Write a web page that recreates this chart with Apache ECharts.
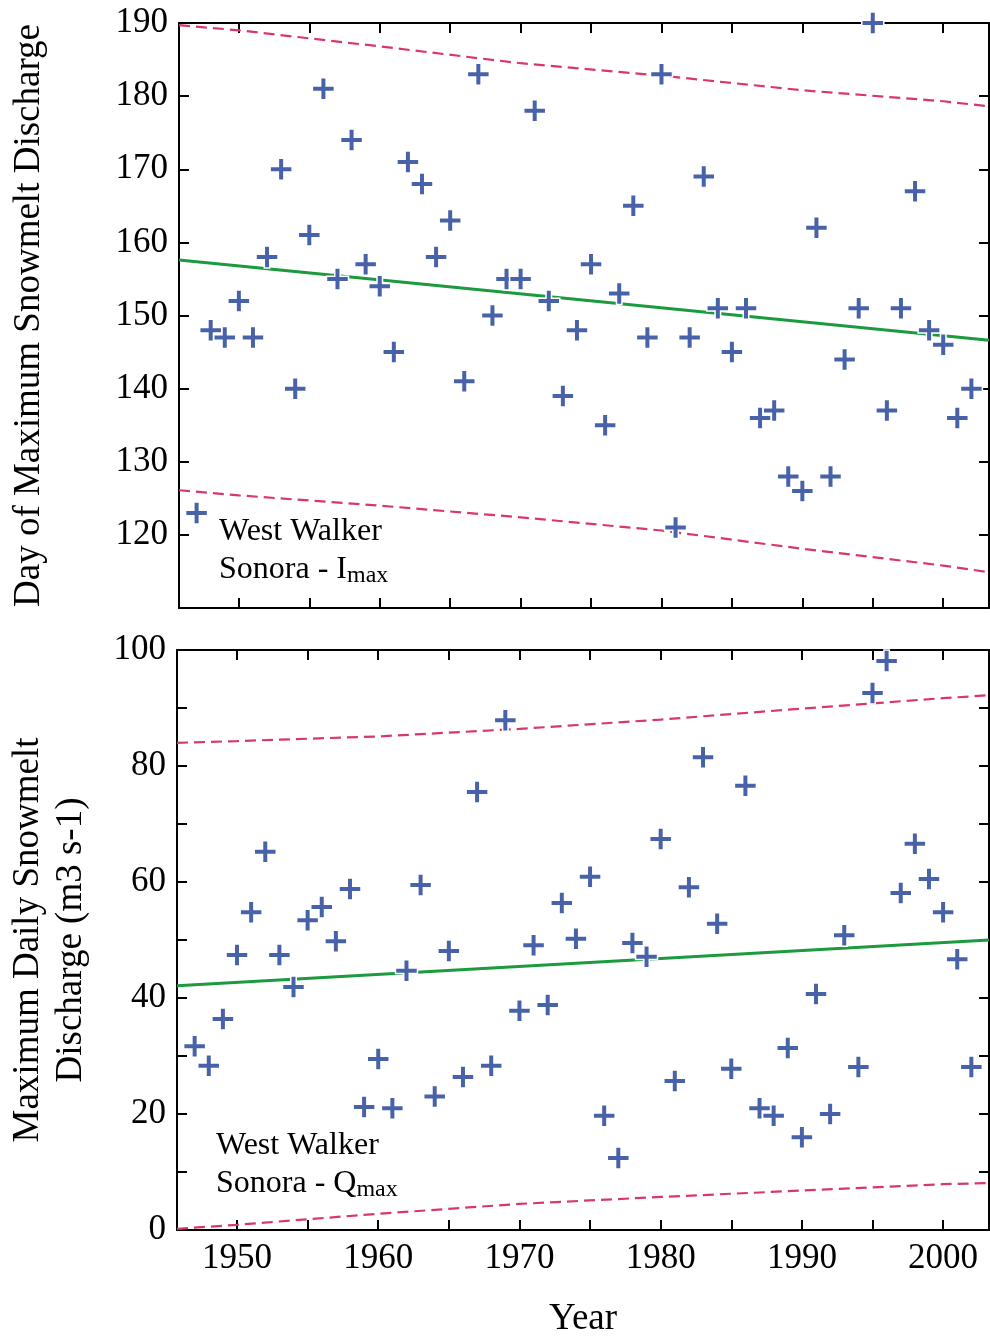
<!DOCTYPE html>
<html>
<head>
<meta charset="utf-8">
<title>West Walker - Sonora</title>
<script src="https://cdn.jsdelivr.net/npm/echarts@6/dist/echarts.min.js"></script>
<style>
  html, body { margin: 0; padding: 0; background: #fff; }
  #main { width: 990px; height: 1336px; }
</style>
</head>
<body>
<div id="main"></div>
<script>
    // 年份
    var years = [1947, 1948, 1949, 1950, 1951, 1952, 1953, 1954, 1955, 1956,
                 1957, 1958, 1959, 1960, 1961, 1962, 1963, 1964, 1965, 1966,
                 1967, 1968, 1969, 1970, 1971, 1972, 1973, 1974, 1975, 1976,
                 1977, 1978, 1979, 1980, 1981, 1982, 1983, 1984, 1985, 1986,
                 1987, 1988, 1989, 1990, 1991, 1992, 1993, 1994, 1995, 1996,
                 1997, 1998, 1999, 2000, 2001, 2002];
    // Imax : day of maximum snowmelt discharge
    var dayMax = [123, 148, 147, 152, 147, 158, 170, 140, 161, 181,
                  155, 174, 157, 154, 145, 171, 168, 158, 163, 141,
                  183, 150, 155, 155, 178, 152, 139, 148, 157, 135,
                  153, 165, 147, 183, 121, 147, 169, 151, 145, 151,
                  136, 137, 128, 126, 162, 128, 144, 151, 190, 137,
                  151, 167, 148, 146, 136, 140];
    // Qmax : maximum daily snowmelt discharge
    var qMax = [31.7, 28.3, 36.4, 47.4, 54.8, 65.2, 47.4, 41.9, 53.4, 55.7,
                49.8, 58.8, 21.2, 29.5, 21.0, 44.7, 59.5, 23.0, 48.1, 26.4,
                75.5, 28.3, 87.9, 37.8, 49.1, 38.8, 56.4, 50.2, 60.9, 19.7,
                12.4, 49.5, 47.1, 67.4, 25.7, 59.1, 81.5, 52.8, 27.8, 76.6,
                21.0, 19.7, 31.4, 16.0, 40.7, 20.0, 50.8, 28.1, 92.6, 98.1,
                58.1, 66.6, 60.5, 54.8, 46.7, 28.1];

    // 趋势线
    var fitYears = [1945.75, 2003.25];
    var dayFit = [157.6, 146.6];
    var qFit = [42.1, 50.0];

    // 置信带
    var bandYears = [1945.75, 1950, 1960, 1970, 1980, 1990, 2000, 2003.25];
    var dayUpper = [189.7, 189.0, 186.8, 184.5, 182.8, 180.8, 179.3, 178.6];
    var dayLower = [126.1, 125.4, 124.0, 122.4, 120.6, 118.1, 115.8, 114.9];
    var qUpper = [84.0, 84.3, 85.1, 86.4, 88.0, 89.9, 91.7, 92.2];
    var qLower = [0.2, 0.9, 2.8, 4.5, 5.7, 6.8, 7.9, 8.1];

    // 刻度
    var yearTicks = [1950, 1955, 1960, 1965, 1970, 1975, 1980, 1985, 1990, 1995, 2000];
    var yearLabels = [1950, 1960, 1970, 1980, 1990, 2000];
    var dayTicks = [120, 130, 140, 150, 160, 170, 180, 190];
    var qTicks = [0, 10, 20, 30, 40, 50, 60, 70, 80, 90, 100];
    var qLabels = [0, 20, 40, 60, 80, 100];

    var FONT = 'Liberation Serif';
    var BLUE = '#4862a9';
    var GREEN = '#1b9a3e';
    var RED = '#d9376b';
    var PLUS = 'path://M7.5,0H12.5V7.5H20V12.5H12.5V20H7.5V12.5H0V7.5H7.5Z';

    function pairs(xs, ys) {
        var out = [];
        for (var i = 0; i < xs.length; i++) out.push([xs[i], ys[i]]);
        return out;
    }

    function axis(opt) {
        var a = {
            type: 'value',
            gridIndex: opt.grid,
            position: opt.position,
            min: opt.min,
            max: opt.max,
            splitLine: { show: false },
            axisLine: { show: true, onZero: false, lineStyle: { color: '#000', width: 2 } },
            axisTick: {
                show: true, inside: true, length: 10,
                lineStyle: { color: '#000', width: 2 },
                customValues: opt.ticks
            },
            axisLabel: { show: false }
        };
        if (opt.labels) {
            a.axisLabel = {
                show: true, customValues: opt.labels,
                fontFamily: FONT, fontSize: 35, color: '#000', margin: opt.margin,
                formatter: function (v) { return String(v); }
            };
            if (opt.position === 'left') a.axisLabel.verticalAlign = 'middle';
        }
        if (opt.name) {
            a.name = opt.name;
            a.nameLocation = 'middle';
            a.nameGap = opt.nameGap;
            a.nameTextStyle = { fontFamily: FONT, fontSize: 37, color: '#000', lineHeight: 43 };
        }
        return a;
    }

    function lineSeries(x, y, data, color, dashed, width) {
        return {
            type: 'line', xAxisIndex: x, yAxisIndex: y,
            data: data, symbol: 'none', silent: true, z: 2,
            lineStyle: { color: color, width: width, type: dashed ? [11, 6] : 'solid' }
        };
    }

    function scatterSeries(x, y, data) {
        return {
            type: 'scatter', xAxisIndex: x, yAxisIndex: y,
            data: data, symbol: PLUS, symbolSize: 22, z: 5,
            itemStyle: { color: BLUE, borderColor: '#fff', borderWidth: 1.5, opacity: 1 }
        };
    }

    var myChart = echarts.init(document.getElementById('main'));

    var option = {
        animation: false,
        backgroundColor: '#fff',
        grid: [
            { left: 179, top: 23, width: 810, height: 585, outerBoundsMode: 'none' },
            { left: 177, top: 650, width: 812, height: 580, outerBoundsMode: 'none' }
        ],
        xAxis: [
            axis({ grid: 0, position: 'bottom', min: 1945.75, max: 2003.25, ticks: yearTicks }),
            axis({ grid: 0, position: 'top', min: 1945.75, max: 2003.25, ticks: yearTicks }),
            axis({ grid: 1, position: 'bottom', min: 1945.75, max: 2003.25, ticks: yearTicks,
                   labels: yearLabels, margin: 11, name: 'Year', nameGap: 68 }),
            axis({ grid: 1, position: 'top', min: 1945.75, max: 2003.25, ticks: yearTicks })
        ],
        yAxis: [
            axis({ grid: 0, position: 'left', min: 110, max: 190, ticks: dayTicks, labels: dayTicks,
                   margin: 11, name: 'Day of Maximum Snowmelt Discharge', nameGap: 128 }),
            axis({ grid: 0, position: 'right', min: 110, max: 190, ticks: dayTicks }),
            axis({ grid: 1, position: 'left', min: 0, max: 100, ticks: qTicks, labels: qLabels,
                   margin: 11, name: 'Maximum Daily Snowmelt\nDischarge (m3 s-1)', nameGap: 84 }),
            axis({ grid: 1, position: 'right', min: 0, max: 100, ticks: qTicks })
        ],
        graphic: [
            {
                type: 'text', left: 219, top: 513,
                style: {
                    text: 'West Walker\nSonora - I{sub|max}',
                    fontFamily: FONT, fontSize: 32, lineHeight: 38, fill: '#000',
                    rich: { sub: { fontFamily: FONT, fontSize: 24, fill: '#000', padding: [12, 0, 0, 0] } }
                }
            },
            {
                type: 'text', left: 216, top: 1127,
                style: {
                    text: 'West Walker\nSonora - Q{sub|max}',
                    fontFamily: FONT, fontSize: 32, lineHeight: 38, fill: '#000',
                    rich: { sub: { fontFamily: FONT, fontSize: 24, fill: '#000', padding: [12, 0, 0, 0] } }
                }
            }
        ],
        series: [
            lineSeries(0, 0, pairs(bandYears, dayUpper), RED, true, 2.2),
            lineSeries(0, 0, pairs(bandYears, dayLower), RED, true, 2.2),
            lineSeries(0, 0, pairs(fitYears, dayFit), GREEN, false, 3),
            scatterSeries(0, 0, pairs(years, dayMax)),
            lineSeries(2, 2, pairs(bandYears, qUpper), RED, true, 2.2),
            lineSeries(2, 2, pairs(bandYears, qLower), RED, true, 2.2),
            lineSeries(2, 2, pairs(fitYears, qFit), GREEN, false, 3),
            scatterSeries(2, 2, pairs(years, qMax))
        ]
    };

    myChart.setOption(option);
    window.addEventListener('resize', function () {
        myChart.resize();
    });
</script>
</body>
</html>
